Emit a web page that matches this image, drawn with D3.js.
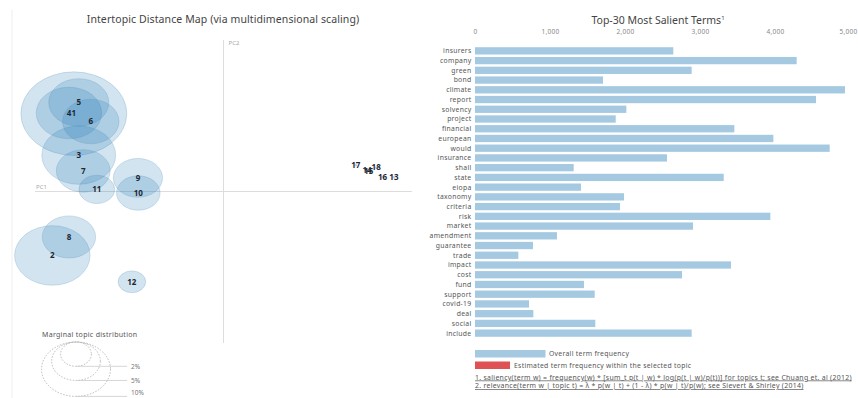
<!DOCTYPE html>
<html>
<head>
<meta charset="utf-8">
<script src="https://cdn.jsdelivr.net/npm/d3@7"></script>
<style>
  body { margin: 0; background: #fff; }
  svg { font-family: "Noto Sans", "DejaVu Sans", sans-serif; display: block; }
  .small { letter-spacing: 0.3px; }
</style>
</head>
<body>
<svg id="chart" width="858" height="398"></svg>
<script>
'use strict';

// Topic data
var topicIds  = [1, 2, 3, 4, 5, 6, 7, 8, 9, 10, 11, 12, 13, 14, 15, 16, 17, 18];
var topicX    = [-0.397, -0.454, -0.384, -0.410, -0.384, -0.352, -0.372, -0.410, -0.227, -0.226, -0.336, -0.243,
                 0.452, 0.381, 0.385, 0.422, 0.351, 0.405];
var topicY    = [0.257, -0.211, 0.120, 0.259, 0.294, 0.231, 0.068, -0.150, 0.045, -0.005, 0.007, -0.298,
                 0.047, 0.069, 0.068, 0.047, 0.087, 0.079];
var topicFreq = [23.6, 12.0, 11.5, 9.0, 7.6, 6.7, 6.1, 6.0, 5.1, 4.0, 2.7, 1.6,
                 0.01, 0.01, 0.01, 0.01, 0.01, 0.01];
var legendFreq = [2, 5, 10];

// Salient terms
var terms = ["insurers", "company", "green", "bond", "climate", "report", "solvency", "project", "financial",
             "european", "would", "insurance", "shall", "state", "eiopa", "taxonomy", "criteria", "risk",
             "market", "amendment", "guarantee", "trade", "impact", "cost", "fund", "support", "covid-19",
             "deal", "social", "include"];
var termFreq = [2644, 4289, 2889, 1707, 4933, 4547, 2018, 1876, 3458,
                3978, 4729, 2560, 1316, 3316, 1413, 1987, 1933, 3938,
                2907, 1093, 773, 578, 3413, 2760, 1453, 1596, 720,
                778, 1604, 2889];
var xTicks = [0, 1000, 2000, 3000, 4000, 5000];

var svg = d3.select("#chart");

// ---------- LEFT: intertopic distance map ----------
var x = d3.scaleLinear().domain([-0.5, 0.5]).range([35, 412]);
var y = d3.scaleLinear().domain([-0.5, 0.5]).range([343, 40]);
// the picture is stretched a bit horizontally, so circles are ellipses
var rx = d3.scaleSqrt().domain([0, 100]).range([0, 109]);
var ry = d3.scaleSqrt().domain([0, 100]).range([0, 86]);

var topics = topicIds.map(function(id, i) {
    return {id: id, x: topicX[i], y: topicY[i], freq: topicFreq[i]};
});

// faint panel border
svg.append("line")
    .attr("x1", 12).attr("x2", 12)
    .attr("y1", 10).attr("y2", 398)
    .attr("stroke", "#eeeeee");

svg.append("text")
    .attr("x", 223).attr("y", 23)
    .attr("text-anchor", "middle")
    .attr("fill", "#444")
    .style("font-size", "10.5px")
    .style("letter-spacing", "0.1px")
    .text("Intertopic Distance Map (via multidimensional scaling)");

// PC axes
svg.append("line")
    .attr("x1", x(0)).attr("x2", x(0))
    .attr("y1", 40).attr("y2", 343)
    .attr("stroke", "#dddddd");
svg.append("line")
    .attr("x1", 35).attr("x2", 412)
    .attr("y1", y(0)).attr("y2", y(0))
    .attr("stroke", "#dddddd");
svg.append("text")
    .attr("x", x(0) + 5).attr("y", 45)
    .attr("fill", "#aaa")
    .style("font-size", "6px")
    .text("PC2");
svg.append("text")
    .attr("x", 36).attr("y", y(0) - 3)
    .attr("fill", "#aaa")
    .style("font-size", "6px")
    .text("PC1");

// topic circles
svg.append("g").selectAll("ellipse")
    .data(topics)
  .enter().append("ellipse")
    .attr("cx", function(d) { return x(d.x); })
    .attr("cy", function(d) { return y(d.y); })
    .attr("rx", function(d) { return rx(d.freq); })
    .attr("ry", function(d) { return ry(d.freq); })
    .attr("fill", "#1f77b4")
    .attr("fill-opacity", 0.2)
    .attr("stroke", "#5b8fb8")
    .attr("stroke-opacity", 0.25)
    .attr("stroke-width", 1);

svg.append("g").selectAll("text")
    .data(topics)
  .enter().append("text")
    .attr("x", function(d) { return x(d.x); })
    .attr("y", function(d) { return y(d.y); })
    .attr("dy", "0.35em")
    .attr("text-anchor", "middle")
    .attr("fill", "#1b2733")
    .style("font-size", "8px")
    .style("font-weight", "bold")
    .text(function(d) { return d.id; });

// marginal topic distribution legend
var legTop = 342, legX = 76;
svg.append("text")
    .attr("class", "small")
    .attr("x", 42).attr("y", 337)
    .attr("fill", "#555")
    .style("font-size", "7px")
    .text("Marginal topic distribution");

var leg = svg.append("g").selectAll("g")
    .data(legendFreq)
  .enter().append("g");
leg.append("ellipse")
    .attr("cx", legX)
    .attr("cy", function(d) { return legTop + ry(d); })
    .attr("rx", function(d) { return rx(d); })
    .attr("ry", function(d) { return ry(d); })
    .attr("fill", "none")
    .attr("stroke", "#aaa")
    .attr("stroke-width", 0.8)
    .attr("stroke-dasharray", "1.5,1.5");
leg.append("line")
    .attr("x1", legX).attr("x2", 127)
    .attr("y1", function(d) { return legTop + 2 * ry(d); })
    .attr("y2", function(d) { return legTop + 2 * ry(d); })
    .attr("stroke", "#ccc")
    .attr("stroke-width", 0.8);
leg.append("text")
    .attr("x", 131)
    .attr("y", function(d) { return Math.min(legTop + 2 * ry(d), 393); })
    .attr("dy", "0.35em")
    .attr("fill", "#777")
    .style("font-size", "6.5px")
    .text(function(d) { return d + "%"; });

// ---------- RIGHT: top-30 salient terms ----------
var bx = d3.scaleLinear().domain([0, 5000]).range([475, 850]);
var by = d3.scaleBand().domain(terms).range([46, 338]).paddingInner(0.25).paddingOuter(0.125);

var title2 = svg.append("text")
    .attr("x", 658).attr("y", 24)
    .attr("text-anchor", "middle")
    .attr("fill", "#444")
    .style("font-size", "10.5px");
title2.append("tspan").text("Top-30 Most Salient Terms");
title2.append("tspan")
    .attr("dy", "-4")
    .style("font-size", "6px")
    .text("1");

// top axis, labels only
var xAxis = d3.axisTop(bx)
    .tickValues(xTicks)
    .tickSize(0)
    .tickFormat(d3.format(","));
var ax = svg.append("g")
    .attr("transform", "translate(0,37)")
    .call(xAxis);
ax.select(".domain").remove();
ax.selectAll("text")
    .attr("fill", "#888")
    .style("font-family", "\"Noto Sans\", sans-serif")
    .style("font-size", "6.5px")
    .style("letter-spacing", "0.3px");
// keep the last label inside the window
ax.selectAll(".tick text")
    .filter(function(d) { return d === 5000; })
    .attr("text-anchor", "end")
    .attr("x", 7);

svg.append("g").selectAll("rect")
    .data(terms)
  .enter().append("rect")
    .attr("x", bx(0))
    .attr("y", function(d) { return by(d); })
    .attr("width", function(d, i) { return bx(termFreq[i]) - bx(0); })
    .attr("height", by.bandwidth())
    .attr("fill", "#1f77b4")
    .attr("fill-opacity", 0.4);

svg.append("g").selectAll("text")
    .data(terms)
  .enter().append("text")
    .attr("class", "small")
    .attr("x", 471.5)
    .attr("y", function(d) { return by(d) + by.bandwidth() / 2; })
    .attr("dy", "0.35em")
    .attr("text-anchor", "end")
    .attr("fill", "#555")
    .style("font-size", "6.8px")
    .text(function(d) { return d; });

// bar legend
svg.append("rect")
    .attr("x", 475).attr("y", 350)
    .attr("width", 70.5).attr("height", 7.5)
    .attr("fill", "#1f77b4")
    .attr("fill-opacity", 0.4);
svg.append("text")
    .attr("class", "small")
    .attr("x", 549).attr("y", 353.8)
    .attr("dy", "0.35em")
    .attr("fill", "#555")
    .style("font-size", "6.8px")
    .text("Overall term frequency");
svg.append("rect")
    .attr("x", 475).attr("y", 361.5)
    .attr("width", 35).attr("height", 7.5)
    .attr("fill", "#d62728")
    .attr("fill-opacity", 0.8);
svg.append("text")
    .attr("class", "small")
    .attr("x", 514).attr("y", 365.3)
    .attr("dy", "0.35em")
    .attr("fill", "#555")
    .style("font-size", "6.8px")
    .text("Estimated term frequency within the selected topic");

// footnotes
var notes = [
    "1. saliency(term w) = frequency(w) * [sum_t p(t | w) * log(p(t | w)/p(t))] for topics t; see Chuang et. al (2012)",
    "2. relevance(term w | topic t) = \u03bb * p(w | t) + (1 - \u03bb) * p(w | t)/p(w); see Sievert & Shirley (2014)"
];
svg.append("g").selectAll("text")
    .data(notes)
  .enter().append("text")
    .attr("class", "small")
    .attr("x", 475)
    .attr("y", function(d, i) { return 379.5 + i * 8.5; })
    .attr("fill", "#555")
    .style("font-size", "6.9px")
    .style("text-decoration", "underline")
    .text(function(d) { return d; });
</script>
</body>
</html>
